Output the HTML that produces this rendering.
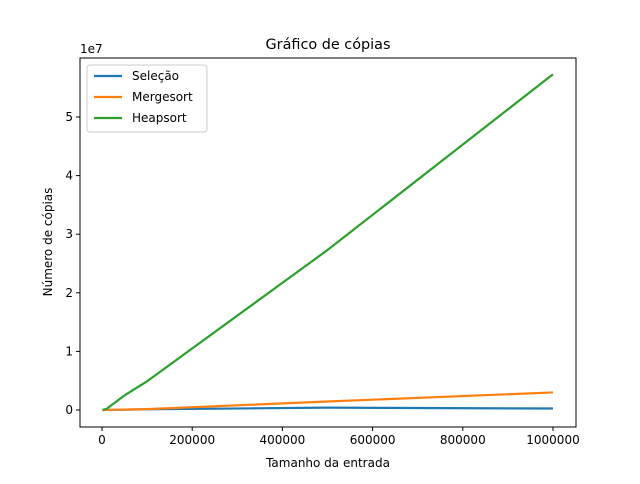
<!DOCTYPE html>
<html><head><meta charset="utf-8"><style>
body{margin:0;background:#fff;font-family:"DejaVu Sans","Liberation Sans",sans-serif;}
svg text{font-family:"DejaVu Sans","Liberation Sans",sans-serif;fill:#000;}
</style></head><body>
<svg id="chart" width="640" height="480">
<rect width="640" height="480" fill="#fff"/>
<g id="plot"></g>
</svg>
<script>
const xs=[1000,10000,50000,100000,500000,1000000];
const selecao=[1000,10000,60000,120000,400000,250000];
const mergesort=[1000,13000,75000,155000,1450000,3000000];
const heapsort=[15000,190000,2500000,4900000,27300000,57300000];
const xTicks=[0,200000,400000,600000,800000,1000000];
const yTicks=[0,1,2,3,4,5];
const L=80,R=576,T=58,B=427;
const X=v=>102+v/1e6*451;
const Y=v=>410-v/1e7*58.6;
const ns="http://www.w3.org/2000/svg";
const g=document.getElementById('plot');
function mk(t,a,txt){const e=document.createElementNS(ns,t);for(const k in a)e.setAttribute(k,a[k]);if(txt!==undefined)e.textContent=txt;g.appendChild(e);return e;}
const series=[[selecao,'#1f77b4','selecao-line'],[mergesort,'#ff7f0e','mergesort-line'],[heapsort,'#2ca02c','heapsort-line']];
series.forEach(([d,c,n])=>{
 const p=mk('polyline',{points:xs.map((x,i)=>X(x)+','+Y(d[i])).join(' '),fill:'none',stroke:c,'stroke-width':2.2});
 
 
});
const fr=mk('rect',{x:L,y:T,width:R-L,height:B-T,fill:'none',stroke:'#000','stroke-width':1});


xTicks.forEach(t=>{
 mk('line',{x1:X(t),x2:X(t),y1:B,y2:B+4,stroke:'#000'});
 const e=mk('text',{x:X(t),y:B+17,'text-anchor':'middle','font-size':12},String(t));
 
 
});
yTicks.forEach(t=>{
 mk('line',{x1:L-4,x2:L,y1:Y(t*1e7),y2:Y(t*1e7),stroke:'#000'});
 const e=mk('text',{x:L-7,y:Y(t*1e7)+4,'text-anchor':'end','font-size':12},String(t));
 
 
});
let e=mk('text',{x:80,y:53,'font-size':12},'1e7');


e=mk('text',{x:328,y:49,'text-anchor':'middle','font-size':14.4},'Gráfico de cópias');


e=mk('text',{x:328,y:467,'text-anchor':'middle','font-size':12},'Tamanho da entrada');


e=mk('text',{x:52,y:242,'text-anchor':'middle','font-size':12,transform:'rotate(-90 52 242)'},'Número de cópias');


const lg=mk('rect',{x:87,y:65,width:120,height:67,rx:3,fill:'#fff',stroke:'#ccc'});


['Seleção','Mergesort','Heapsort'].forEach((n,i)=>{
 const y=76+i*21;
 mk('line',{x1:94,x2:122,y1:y,y2:y,stroke:series[i][1],'stroke-width':2.2});
 const t=mk('text',{x:132,y:y+4,'font-size':12},n);
 
 
});
</script>
</body></html>
